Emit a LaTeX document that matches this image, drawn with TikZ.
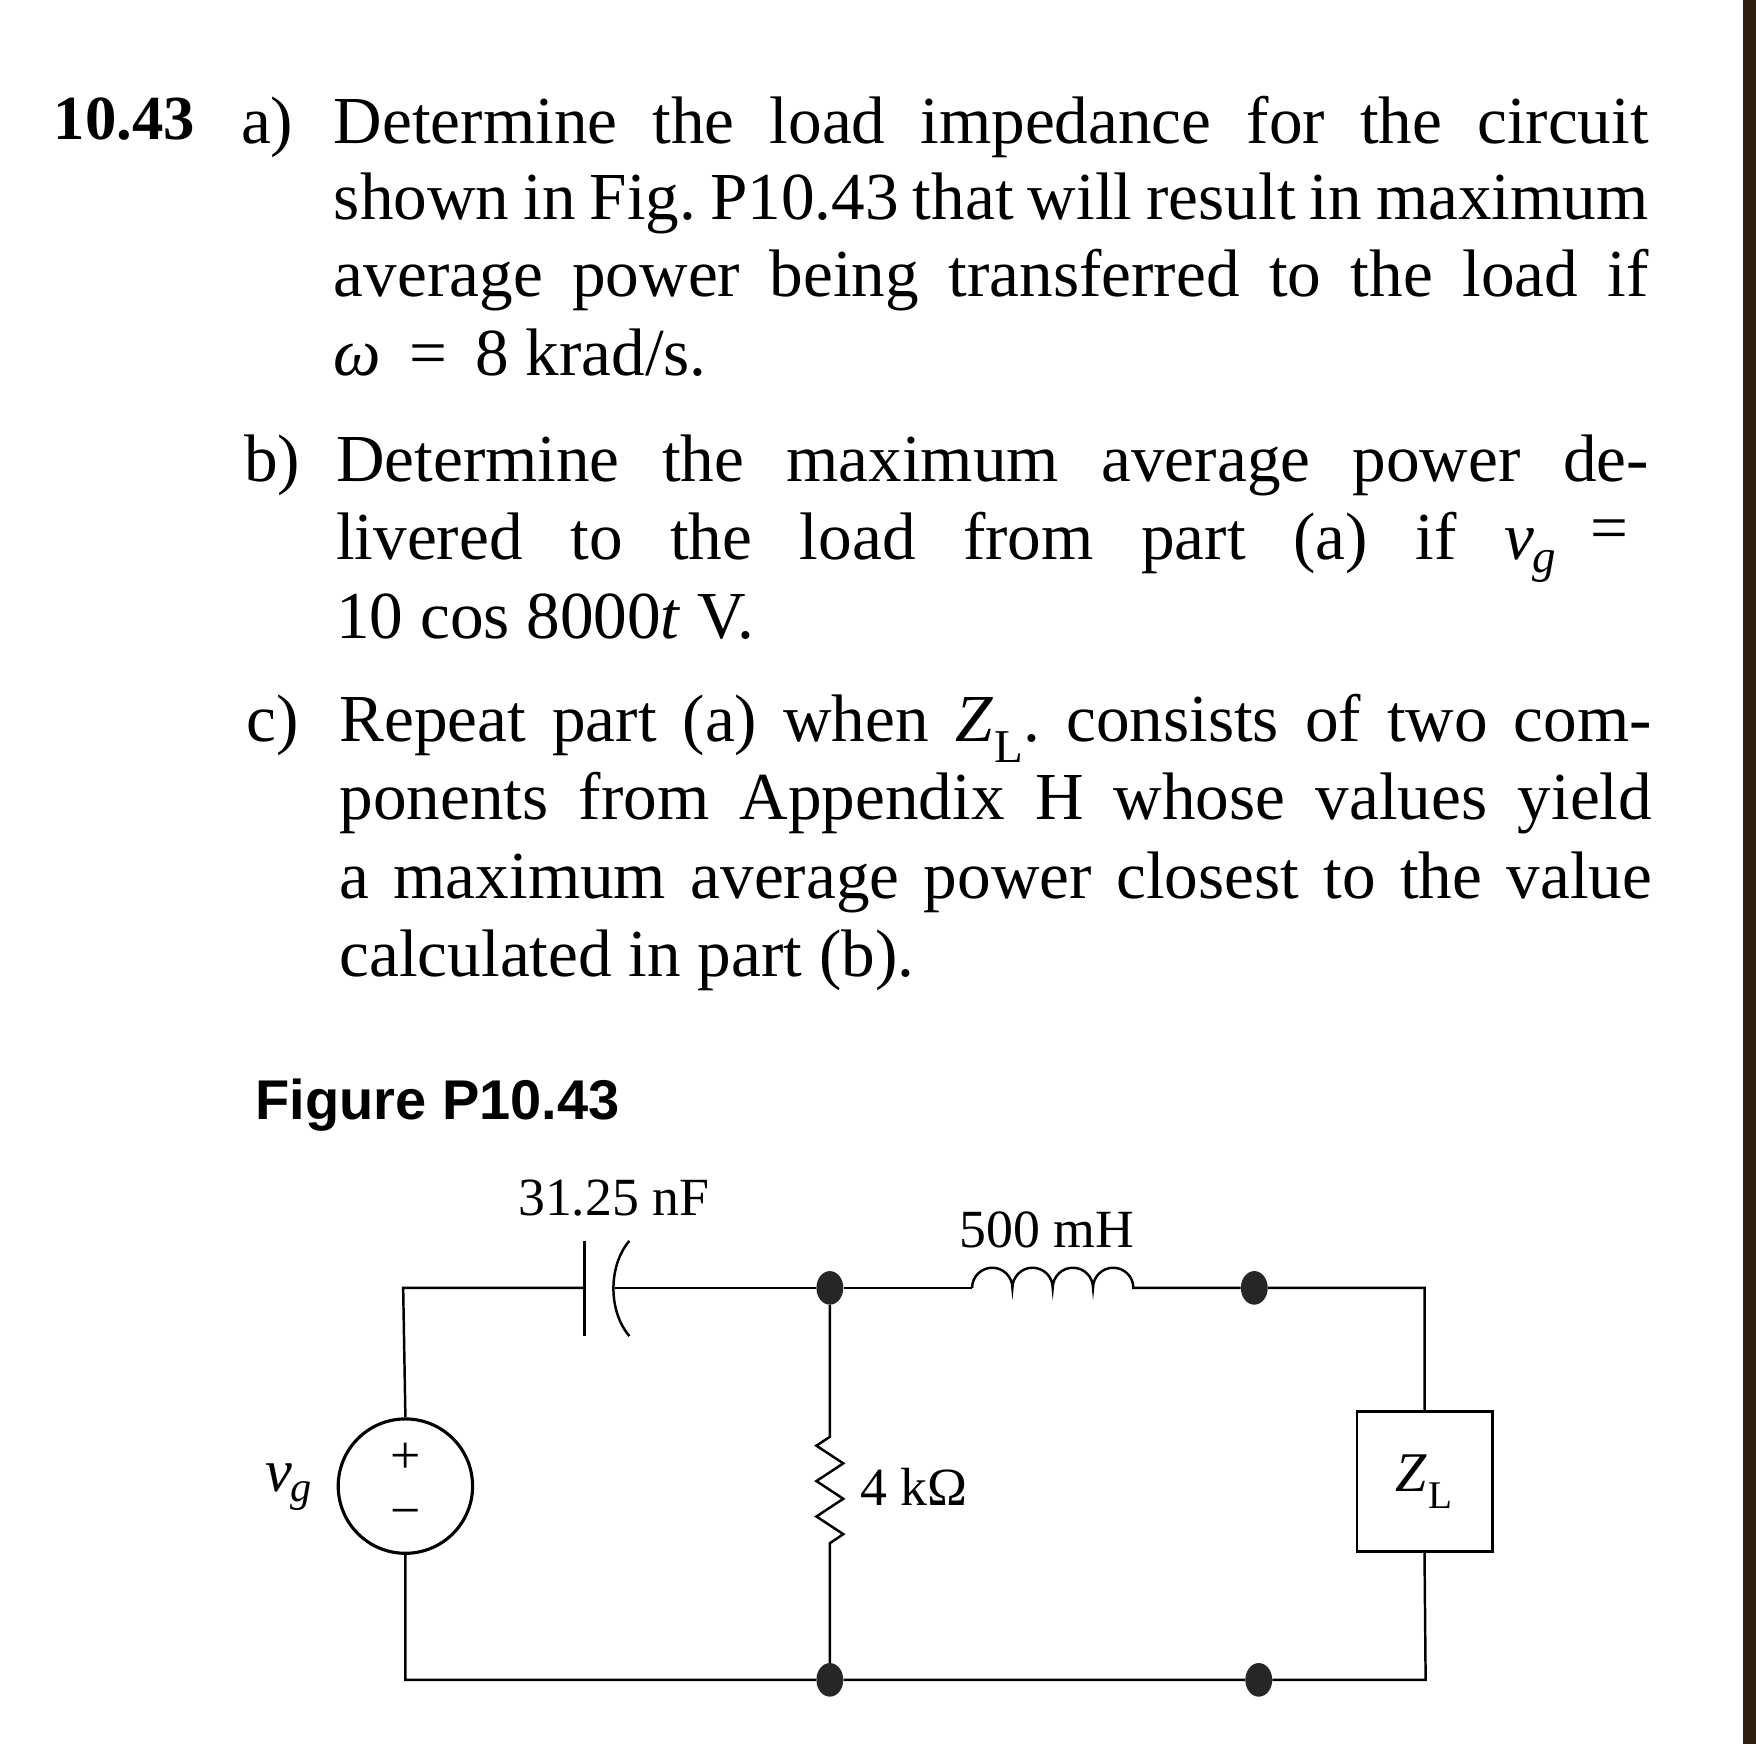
\documentclass[tikz,border=0pt]{standalone}
\usepackage{fontspec}
\usetikzlibrary{shapes.geometric}
\setmainfont{Liberation Serif}
\newfontfamily\hsans{Liberation Sans}
\newcommand{\vgx}{\textit{v}\textsubscript{\kern-1pt\textit{g}}}
\newcommand{\ZLx}{\textit{Z}\textsubscript{\kern1pt L}}
\frenchspacing
\begin{document}
\begin{tikzpicture}[x=1pt,y=-1pt,
  ln/.style={anchor=base west,inner sep=0pt,font=\fontsize{60}{70}\selectfont},
  cl/.style={inner sep=0pt,font=\fontsize{48}{56}\selectfont},
  w/.style={line width=2.2pt},
  jn/.style={ellipse,fill=black!85,minimum width=24pt,minimum height=30pt,inner sep=0pt}]
\useasboundingbox[fill=white] (0,0) rectangle (1568,1557);
\fill[black!75!brown] (1556,0) rectangle (1568,1557);
% text
\node[ln,font=\bfseries\fontsize{56}{70}\selectfont] (num) at (48,125) {10.43};
\node[ln] (la) at (215,128) {a)};
\node[ln] (a1) at (298,128) {\makebox[1174pt][s]{Determine the load impedance for the circuit}};
\node[ln] (a2) at (298,196) {\makebox[1174pt][s]{shown in Fig. P10.43 that will result in maximum}};
\node[ln] (a3) at (298,265) {\makebox[1174pt][s]{average power being transferred to the load if}};
\node[ln] (a4) at (298,335) {\textit{ω} \,=\, 8 krad/s.};
\node[ln] (lb) at (218,430) {b)};
\node[ln] (b1) at (300,430) {\makebox[1172pt][s]{Determine the maximum average power de-}};
\node[ln] (b2) at (300,500) {\makebox[1090pt][s]{livered to the load from part (a) if \vgx}};
\node[ln] (beq) at (1420,492) {=};
\node[ln] (b3) at (300,570) {10 cos 8000\textit{t} V.};
\node[ln] (lc) at (220,662) {c)};
\node[ln] (c1) at (303,662) {\makebox[1172pt][s]{Repeat part (a) when \ZLx. consists of two com-}};
\node[ln] (c2) at (303,732) {\makebox[1172pt][s]{ponents from Appendix H whose values yield}};
\node[ln] (c3) at (303,802) {\makebox[1172pt][s]{a maximum average power closest to the value}};
\node[ln] (c4) at (303,872) {calculated in part (b).};
\node[anchor=base west,inner sep=0pt,font=\hsans\bfseries\fontsize{50}{54}\selectfont] (fig) at (228,1000) {Figure P10.43};
% circuit coordinates
\coordinate (tl) at (360,1150);
\coordinate (c1a) at (522,1150);
\coordinate (c2a) at (549,1150);
\node[jn] (n1) at (741,1150) {};
\coordinate (l1) at (868,1150);
\node[jn] (n2) at (1120,1150) {};
\coordinate (tr) at (1272,1150);
\node[draw,w,minimum width=121pt,minimum height=125pt,inner sep=0pt,font=\fontsize{50}{56}\selectfont] (zl) at (1272,1323) {\ZLx};
\coordinate (bl) at (362,1500);
\node[jn] (n3) at (741,1500) {};
\node[jn] (n4) at (1124,1500) {};
\coordinate (br) at (1273,1500);
\node[draw,circle,line width=2.8pt,minimum size=120pt,inner sep=0pt] (src) at (362,1327) {};
\node[cl] (plus) at (362,1302) {+};
\node[cl] (minus) at (362,1356) {−};
\node[cl,font=\fontsize{54}{56}\selectfont] (vg) at (258,1328) {\vgx};
\coordinate (r1) at (741,1283);
\coordinate (r2) at (741,1378);
% wires
\draw[w] (src.north) -- (tl) -- (c1a);
\draw[w] (c1a |- 0,1108) -- (c1a |- 0,1193);
\draw[w] (562,1108) .. controls (543,1130) and (543,1171) .. (562,1193);
\draw[w] (c2a) -- (n1) -- (l1);
\draw[w] (l1) arc(180:360:18) arc(180:360:18) arc(180:360:18) arc(180:360:18) -- (n2) -- (tr) -- (zl.north);
\draw[w] (zl.south) -- (br) -- (n4) -- (n3) -- (bl) -- (src.south);
\draw[w] (n1) -- (r1) -- ++(-12,7.9) -- ++(24,15.8) -- ++(-24,15.8) -- ++(24,15.8) -- ++(-24,15.8) -- ++(24,15.8) -- (r2) -- (n3);
\node[cl,anchor=west] (rl) at (768,1328) {4 kΩ};
\node[cl] (cl1) at (548,1070) {31.25 nF};
\node[cl] (ll) at (935,1098) {500 mH};
\end{tikzpicture}
\end{document}
